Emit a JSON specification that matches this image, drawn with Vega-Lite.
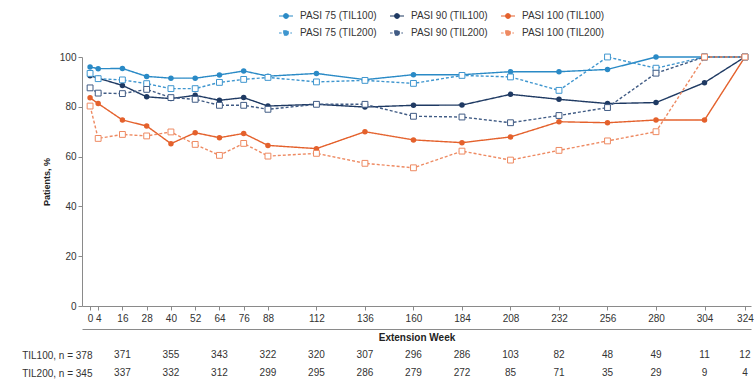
{
  "$schema": "https://vega.github.io/schema/vega-lite/v6.json",
  "padding": {"left": 21, "right": 0, "top": 8, "bottom": 2},
  "spacing": 4,
  "config": {
    "font": "Liberation Sans",
    "view": {"stroke": null},
    "axis": {"labelFont": "Liberation Sans", "titleFont": "Liberation Sans", "labelColor": "#333333", "titleColor": "#222222", "domainColor": "#8a8a8a", "tickColor": "#8a8a8a", "grid": false},
    "legend": {"labelFont": "Liberation Sans", "labelColor": "#333333"}
  },
  "datasets": {
    "pasi": [
      {"w":0,"s":"PASI 75 (TIL100)","v":96.0},{"w":4,"s":"PASI 75 (TIL100)","v":95.3},{"w":16,"s":"PASI 75 (TIL100)","v":95.4},{"w":28,"s":"PASI 75 (TIL100)","v":92.2},{"w":40,"s":"PASI 75 (TIL100)","v":91.5},{"w":52,"s":"PASI 75 (TIL100)","v":91.5},{"w":64,"s":"PASI 75 (TIL100)","v":92.8},{"w":76,"s":"PASI 75 (TIL100)","v":94.4},{"w":88,"s":"PASI 75 (TIL100)","v":92.3},{"w":112,"s":"PASI 75 (TIL100)","v":93.4},{"w":136,"s":"PASI 75 (TIL100)","v":90.9},{"w":160,"s":"PASI 75 (TIL100)","v":92.9},{"w":184,"s":"PASI 75 (TIL100)","v":92.9},{"w":208,"s":"PASI 75 (TIL100)","v":94.1},{"w":232,"s":"PASI 75 (TIL100)","v":94.1},{"w":256,"s":"PASI 75 (TIL100)","v":95.0},{"w":280,"s":"PASI 75 (TIL100)","v":100},{"w":304,"s":"PASI 75 (TIL100)","v":100},{"w":324,"s":"PASI 75 (TIL100)","v":100},
      {"w":0,"s":"PASI 90 (TIL100)","v":92.5},{"w":4,"s":"PASI 90 (TIL100)","v":91.5},{"w":16,"s":"PASI 90 (TIL100)","v":88.6},{"w":28,"s":"PASI 90 (TIL100)","v":84.0},{"w":40,"s":"PASI 90 (TIL100)","v":83.3},{"w":52,"s":"PASI 90 (TIL100)","v":84.6},{"w":64,"s":"PASI 90 (TIL100)","v":82.6},{"w":76,"s":"PASI 90 (TIL100)","v":83.7},{"w":88,"s":"PASI 90 (TIL100)","v":80.3},{"w":112,"s":"PASI 90 (TIL100)","v":81.0},{"w":136,"s":"PASI 90 (TIL100)","v":79.9},{"w":160,"s":"PASI 90 (TIL100)","v":80.6},{"w":184,"s":"PASI 90 (TIL100)","v":80.7},{"w":208,"s":"PASI 90 (TIL100)","v":85.0},{"w":232,"s":"PASI 90 (TIL100)","v":83.0},{"w":256,"s":"PASI 90 (TIL100)","v":81.3},{"w":280,"s":"PASI 90 (TIL100)","v":81.7},{"w":304,"s":"PASI 90 (TIL100)","v":89.7},{"w":324,"s":"PASI 90 (TIL100)","v":100},
      {"w":0,"s":"PASI 100 (TIL100)","v":83.6},{"w":4,"s":"PASI 100 (TIL100)","v":81.3},{"w":16,"s":"PASI 100 (TIL100)","v":74.7},{"w":28,"s":"PASI 100 (TIL100)","v":72.3},{"w":40,"s":"PASI 100 (TIL100)","v":65.2},{"w":52,"s":"PASI 100 (TIL100)","v":69.6},{"w":64,"s":"PASI 100 (TIL100)","v":67.6},{"w":76,"s":"PASI 100 (TIL100)","v":69.3},{"w":88,"s":"PASI 100 (TIL100)","v":64.5},{"w":112,"s":"PASI 100 (TIL100)","v":63.2},{"w":136,"s":"PASI 100 (TIL100)","v":70.0},{"w":160,"s":"PASI 100 (TIL100)","v":66.7},{"w":184,"s":"PASI 100 (TIL100)","v":65.6},{"w":208,"s":"PASI 100 (TIL100)","v":67.9},{"w":232,"s":"PASI 100 (TIL100)","v":74.0},{"w":256,"s":"PASI 100 (TIL100)","v":73.6},{"w":280,"s":"PASI 100 (TIL100)","v":74.7},{"w":304,"s":"PASI 100 (TIL100)","v":74.7},{"w":324,"s":"PASI 100 (TIL100)","v":100},
      {"w":0,"s":"PASI 75 (TIL200)","v":93.4},{"w":4,"s":"PASI 75 (TIL200)","v":91.3},{"w":16,"s":"PASI 75 (TIL200)","v":90.8},{"w":28,"s":"PASI 75 (TIL200)","v":89.3},{"w":40,"s":"PASI 75 (TIL200)","v":87.3},{"w":52,"s":"PASI 75 (TIL200)","v":87.3},{"w":64,"s":"PASI 75 (TIL200)","v":89.8},{"w":76,"s":"PASI 75 (TIL200)","v":91.0},{"w":88,"s":"PASI 75 (TIL200)","v":91.8},{"w":112,"s":"PASI 75 (TIL200)","v":90.0},{"w":136,"s":"PASI 75 (TIL200)","v":90.6},{"w":160,"s":"PASI 75 (TIL200)","v":89.4},{"w":184,"s":"PASI 75 (TIL200)","v":92.6},{"w":208,"s":"PASI 75 (TIL200)","v":92.0},{"w":232,"s":"PASI 75 (TIL200)","v":86.6},{"w":256,"s":"PASI 75 (TIL200)","v":100},{"w":280,"s":"PASI 75 (TIL200)","v":95.5},{"w":304,"s":"PASI 75 (TIL200)","v":100},{"w":324,"s":"PASI 75 (TIL200)","v":100},
      {"w":0,"s":"PASI 90 (TIL200)","v":87.6},{"w":4,"s":"PASI 90 (TIL200)","v":85.5},{"w":16,"s":"PASI 90 (TIL200)","v":85.3},{"w":28,"s":"PASI 90 (TIL200)","v":87.0},{"w":40,"s":"PASI 90 (TIL200)","v":83.7},{"w":52,"s":"PASI 90 (TIL200)","v":83.0},{"w":64,"s":"PASI 90 (TIL200)","v":80.6},{"w":76,"s":"PASI 90 (TIL200)","v":80.6},{"w":88,"s":"PASI 90 (TIL200)","v":79.0},{"w":112,"s":"PASI 90 (TIL200)","v":81.0},{"w":136,"s":"PASI 90 (TIL200)","v":81.0},{"w":160,"s":"PASI 90 (TIL200)","v":76.2},{"w":184,"s":"PASI 90 (TIL200)","v":75.9},{"w":208,"s":"PASI 90 (TIL200)","v":73.6},{"w":232,"s":"PASI 90 (TIL200)","v":76.5},{"w":256,"s":"PASI 90 (TIL200)","v":79.7},{"w":280,"s":"PASI 90 (TIL200)","v":93.5},{"w":304,"s":"PASI 90 (TIL200)","v":100},{"w":324,"s":"PASI 90 (TIL200)","v":100},
      {"w":0,"s":"PASI 100 (TIL200)","v":80.3},{"w":4,"s":"PASI 100 (TIL200)","v":67.3},{"w":16,"s":"PASI 100 (TIL200)","v":68.9},{"w":28,"s":"PASI 100 (TIL200)","v":68.3},{"w":40,"s":"PASI 100 (TIL200)","v":69.9},{"w":52,"s":"PASI 100 (TIL200)","v":64.9},{"w":64,"s":"PASI 100 (TIL200)","v":60.5},{"w":76,"s":"PASI 100 (TIL200)","v":65.3},{"w":88,"s":"PASI 100 (TIL200)","v":60.2},{"w":112,"s":"PASI 100 (TIL200)","v":61.3},{"w":136,"s":"PASI 100 (TIL200)","v":57.3},{"w":160,"s":"PASI 100 (TIL200)","v":55.5},{"w":184,"s":"PASI 100 (TIL200)","v":62.2},{"w":208,"s":"PASI 100 (TIL200)","v":58.6},{"w":232,"s":"PASI 100 (TIL200)","v":62.5},{"w":256,"s":"PASI 100 (TIL200)","v":66.3},{"w":280,"s":"PASI 100 (TIL200)","v":70.0},{"w":304,"s":"PASI 100 (TIL200)","v":100},{"w":324,"s":"PASI 100 (TIL200)","v":100}
    ],
    "risk": [
      {"w":16,"g":"TIL100, n = 378","n":"371"},{"w":40,"g":"TIL100, n = 378","n":"355"},{"w":64,"g":"TIL100, n = 378","n":"343"},{"w":88,"g":"TIL100, n = 378","n":"322"},{"w":112,"g":"TIL100, n = 378","n":"320"},{"w":136,"g":"TIL100, n = 378","n":"307"},{"w":160,"g":"TIL100, n = 378","n":"296"},{"w":184,"g":"TIL100, n = 378","n":"286"},{"w":208,"g":"TIL100, n = 378","n":"103"},{"w":232,"g":"TIL100, n = 378","n":"82"},{"w":256,"g":"TIL100, n = 378","n":"48"},{"w":280,"g":"TIL100, n = 378","n":"49"},{"w":304,"g":"TIL100, n = 378","n":"11"},{"w":324,"g":"TIL100, n = 378","n":"12"},
      {"w":16,"g":"TIL200, n = 345","n":"337"},{"w":40,"g":"TIL200, n = 345","n":"332"},{"w":64,"g":"TIL200, n = 345","n":"312"},{"w":88,"g":"TIL200, n = 345","n":"299"},{"w":112,"g":"TIL200, n = 345","n":"295"},{"w":136,"g":"TIL200, n = 345","n":"286"},{"w":160,"g":"TIL200, n = 345","n":"279"},{"w":184,"g":"TIL200, n = 345","n":"272"},{"w":208,"g":"TIL200, n = 345","n":"85"},{"w":232,"g":"TIL200, n = 345","n":"71"},{"w":256,"g":"TIL200, n = 345","n":"35"},{"w":280,"g":"TIL200, n = 345","n":"29"},{"w":304,"g":"TIL200, n = 345","n":"9"},{"w":324,"g":"TIL200, n = 345","n":"4"}
    ]
  },
  "vconcat": [
    {
      "width": 669,
      "height": 249,
      "data": {"name": "pasi"},
      "resolve": {"axis": {"x": "independent"}},
      "layer": [
        {
          "mark": {"type": "line", "strokeWidth": 1.4},
          "encoding": {
            "x": {"field": "w", "type": "quantitative", "scale": {"domain": [-4, 327], "nice": false, "zero": false},
              "axis": {"orient": "bottom", "values": [0,4,16,28,40,52,64,76,88,112,136,160,184,208,232,256,280,304,324], "labelFontSize": 10, "tickSize": 4, "labelPadding": 3, "labelOverlap": false, "labelFlush": false, "title": null}},
            "y": {"field": "v", "type": "quantitative", "scale": {"domain": [0, 100], "nice": false},
              "axis": {"values": [0,20,40,60,80,100], "title": "Patients, %", "titleFontSize": 9, "titleFontWeight": "bold", "titlePadding": 8, "labelFontSize": 10, "tickSize": 4, "labelPadding": 2}},
            "color": {"field": "s", "type": "nominal",
              "scale": {"domain": ["PASI 75 (TIL100)", "PASI 90 (TIL100)", "PASI 100 (TIL100)", "PASI 75 (TIL200)", "PASI 90 (TIL200)", "PASI 100 (TIL200)"],
                        "range": ["#2a8ac6", "#1f3a63", "#e4612c", "#3f96cf", "#405b84", "#ee8a62"]},
              "legend": {
                "orient": "none", "legendX": 196, "legendY": -49, "direction": "horizontal", "columns": 3, "title": null,
                "labelFontSize": 10, "labelOffset": 6, "columnPadding": 10, "rowPadding": 4, "symbolSize": 196,
                "encode": {"symbols": {"update": {
                  "shape": {"signal": "indexof(datum.value, 'TIL200') >= 0 ? 'M-1,0L-0.62,0M0.62,0L0.85,0M-0.32,-0.32L0.32,-0.32L0.32,0.32L-0.32,0.32Z' : 'M-1,0L1,0M0.33,0A0.33,0.33,0,1,1,-0.33,0A0.33,0.33,0,1,1,0.33,0Z'"},
                  "fill": {"signal": "indexof(datum.value, 'TIL200') >= 0 ? 'white' : scale('color', datum.value)"},
                  "stroke": {"signal": "scale('color', datum.value)"},
                  "strokeWidth": {"value": 1.2},
                  "strokeDash": {"value": [1, 0]},
                  "opacity": {"value": 1}
                }}}
              }},
            "strokeDash": {"field": "s", "type": "nominal", "legend": null,
              "scale": {"domain": ["PASI 75 (TIL100)", "PASI 90 (TIL100)", "PASI 100 (TIL100)", "PASI 75 (TIL200)", "PASI 90 (TIL200)", "PASI 100 (TIL200)"],
                        "range": [[1,0],[1,0],[1,0],[3,2],[3,2],[3,2]]}}
          }
        },
        {
          "transform": [{"filter": "indexof(datum.s, 'TIL100') >= 0"}],
          "mark": {"type": "point", "shape": "circle", "filled": true, "size": 30, "opacity": 1},
          "encoding": {
            "x": {"field": "w", "type": "quantitative",
              "axis": {"orient": "bottom", "values": [], "labels": false, "ticks": false, "domain": true, "offset": 23, "title": "Extension Week", "titleFontSize": 10, "titleFontWeight": "bold", "titlePadding": 3}},
            "y": {"field": "v", "type": "quantitative"},
            "color": {"field": "s", "type": "nominal", "legend": null}
          }
        },
        {
          "transform": [{"filter": "indexof(datum.s, 'TIL200') >= 0"}],
          "mark": {"type": "point", "shape": "square", "filled": false, "fill": "white", "size": 34, "strokeWidth": 1, "opacity": 1},
          "encoding": {
            "x": {"field": "w", "type": "quantitative", "axis": null},
            "y": {"field": "v", "type": "quantitative"},
            "color": {"field": "s", "type": "nominal", "legend": null}
          }
        }
      ]
    },
    {
      "width": 669,
      "height": 36,
      "data": {"name": "risk"},
      "mark": {"type": "text", "fontSize": 10, "color": "#333333", "font": "Liberation Sans"},
      "encoding": {
        "x": {"field": "w", "type": "quantitative", "scale": {"domain": [-4, 327], "nice": false, "zero": false}, "axis": null},
        "y": {"field": "g", "type": "nominal", "sort": ["TIL100, n = 378", "TIL200, n = 345"],
          "axis": {"title": null, "domain": false, "ticks": false, "labelPadding": -10, "labelFontSize": 10, "labelColor": "#333333"}},
        "text": {"field": "n", "type": "nominal"}
      }
    }
  ]
}
